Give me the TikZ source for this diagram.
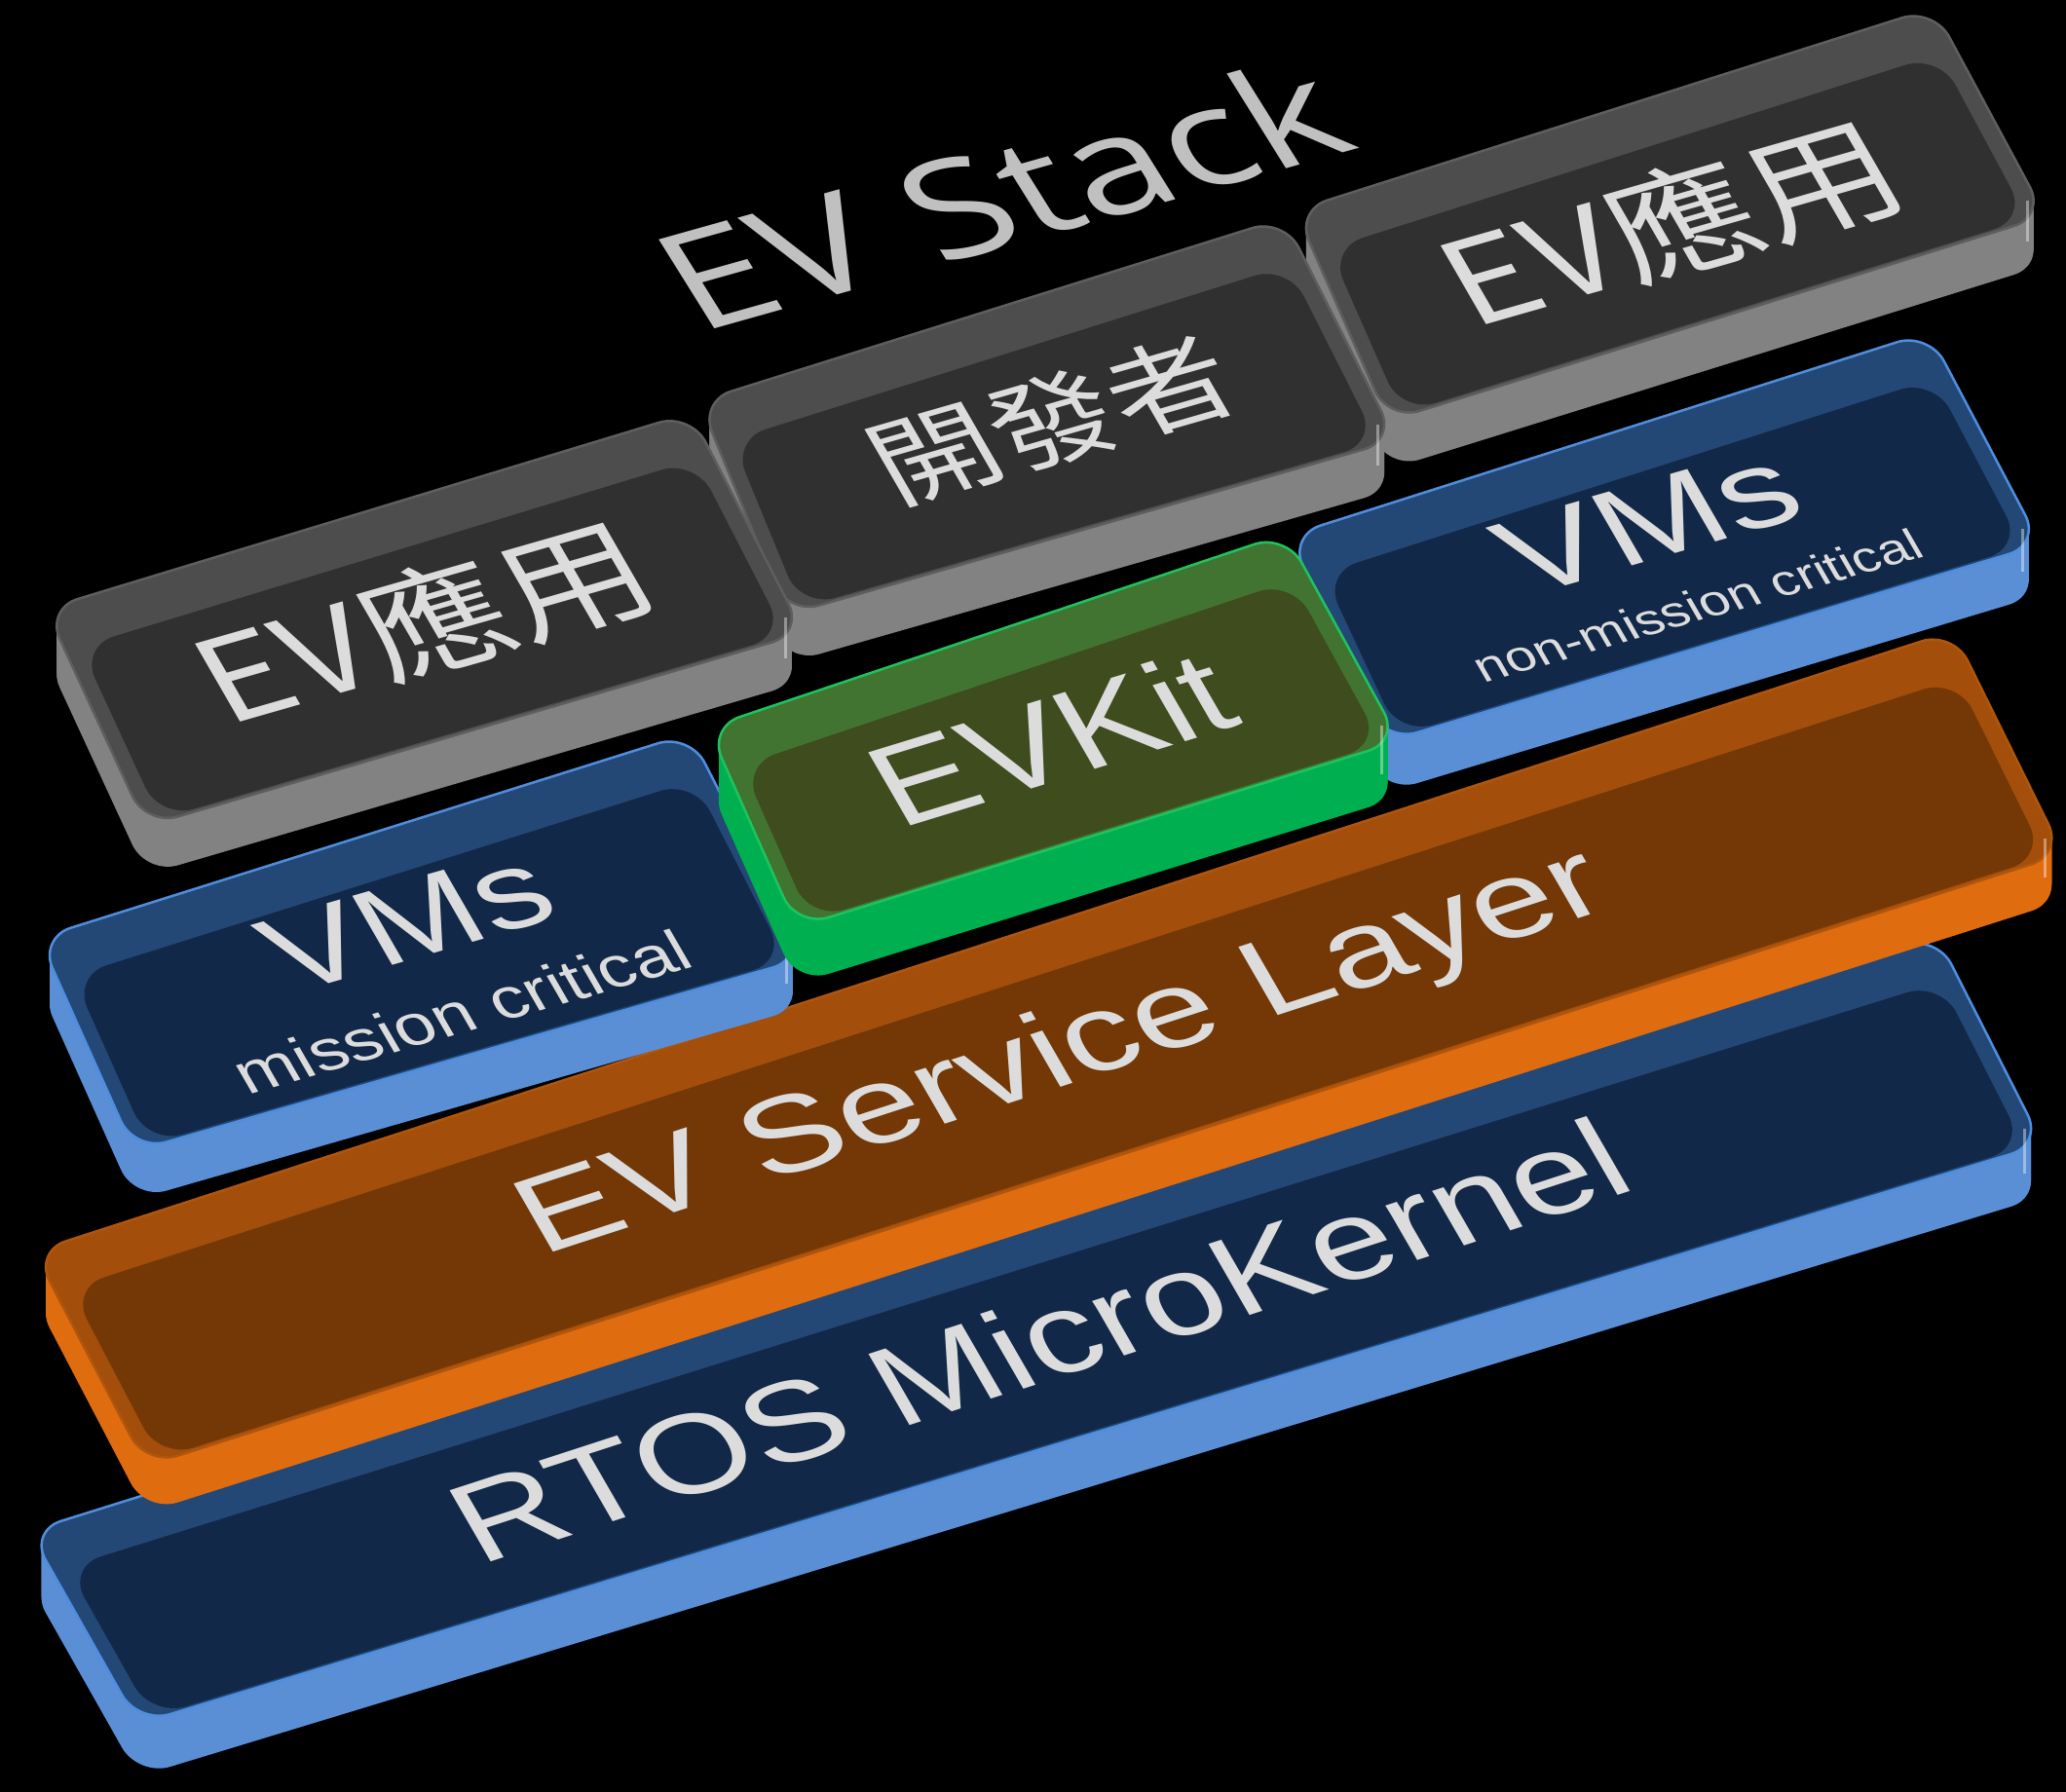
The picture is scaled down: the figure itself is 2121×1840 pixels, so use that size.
\documentclass[tikz,border=0pt]{standalone}
\usepackage{fontspec}
\setmainfont{Liberation Sans}
\newfontfamily\cjkfont{Noto Sans CJK TC}
\newfontfamily\stackfont{Open Sans}
\usetikzlibrary{calc}

\definecolor{grayside}{HTML}{828282}
\definecolor{grayrim}{HTML}{4D4D4D}
\definecolor{grayin}{HTML}{303030}
\definecolor{grayline}{HTML}{5E5E5E}
\definecolor{blueside}{HTML}{5A8FD6}
\definecolor{bluerim}{HTML}{234876}
\definecolor{bluein}{HTML}{122848}
\definecolor{blueline}{HTML}{4E8EE0}
\definecolor{orngside}{HTML}{E06C10}
\definecolor{orngrim}{HTML}{A34E0B}
\definecolor{orngin}{HTML}{733806}
\definecolor{orngline}{HTML}{B0560C}
\definecolor{grnside}{HTML}{00B050}
\definecolor{grnrim}{HTML}{427431}
\definecolor{grnin}{HTML}{3E4C1E}
\definecolor{grnline}{HTML}{1CC45E}
\definecolor{lbltext}{HTML}{DCDCDC}
\definecolor{stacktext}{HTML}{C0C0C0}

% #1 id, #2 palette, #3 back-left, #4 back-right, #5 front-right, #6 front-left, #7 thickness
\newcommand\drawslab[7]{%
  \foreach \s in {0,2,...,#7}{%
    \fill[#2side, rounded corners=0.34cm, shift={(0,\s)}] (#3) -- (#4) -- (#5) -- (#6) -- cycle;}
  \fill[#2rim, draw=#2line, line width=0.025cm, rounded corners=0.34cm]
    (#3) -- (#4) -- (#5) -- (#6) -- cycle;
  \coordinate (#1-bl) at (#3);
  \coordinate (#1-br) at (#4);
  \coordinate (#1-fr) at (#5);
  \coordinate (#1-fl) at (#6);
  \coordinate (#1-l1) at ($(#1-bl)!0.48cm!(#1-fl)$);
  \coordinate (#1-r1) at ($(#1-br)!0.48cm!(#1-fr)$);
  \coordinate (#1-l2) at ($(#1-fl)!0.03cm!(#1-bl)$);
  \coordinate (#1-r2) at ($(#1-fr)!0.03cm!(#1-br)$);
  \fill[#2in, rounded corners=0.36cm]
    ($(#1-l1)!0.16cm!(#1-r1)$) -- ($(#1-r1)!0.18cm!(#1-l1)$) --
    ($(#1-r2)!0.18cm!(#1-l2)$) -- ($(#1-l2)!0.16cm!(#1-r2)$) -- cycle;
  \draw[white, opacity=0.4, line width=0.03cm]
    ($(#1-fr)+(-19,-16)$) -- ($(#1-fr)+(-19,#7-24)$);
}

\tikzset{
  lbl/.style={text=lbltext, inner sep=0pt, anchor=base},
  tiltA/.style={cm={0.9613,0.2756,-0.425,0.7361,(0,0)}},
  tiltB/.style={cm={0.9563,0.2924,-0.425,0.7361,(0,0)}},
}

\begin{document}
\begin{tikzpicture}[x=0.01cm,y=-0.01cm]
\fill[black] (0,0) rectangle (2121,1840);
\useasboundingbox (0,0) rectangle (2121,1840);

% title
\node[lbl, cm={0.9916,0.2787,-0.4504,0.7208,(0,0)}, text=stacktext,
      font=\stackfont\fontsize{50.5}{53}\selectfont] (title) at (1057,247) {EV Stack};

% slabs, back to front
\drawslab{H}{blue}{30,1572}{1988,960}{2097,1175}{142,1770}{54}
\drawslab{G}{orng}{35,1285}{2005,648}{2118,877}{150,1505}{48}
\drawslab{C}{gray}{1330,216}{1985,8}{2100,222}{1425,432}{50}
\drawslab{B}{gray}{718,412}{1318,224}{1433,452}{808,631}{50}
\drawslab{A}{gray}{47,625}{709,424}{825,650}{150,848}{50}
\drawslab{D}{blue}{40,963}{708,753}{826,984}{138,1182}{50}
\drawslab{F}{blue}{1323,550}{1980,341}{2095,559}{1422,762}{52}
\drawslab{E}{grn}{727,747}{1320,548}{1437,761}{818,952}{58}

% labels
\node[lbl, tiltA, font=\cjkfont\fontsize{42.2}{44}\selectfont] (tA) at (458,681) {EV應用};
\node[lbl, tiltA, font=\cjkfont\fontsize{35.5}{37}\selectfont] (tB) at (1100,466) {開發者};
\node[lbl, tiltA, font=\cjkfont\fontsize{42.6}{44}\selectfont] (tC) at (1739,272) {EV應用};
\node[lbl, cm={1.0046,0.2880,-0.425,0.7361,(0,0)}, font=\fontsize{39.8}{42}\selectfont] (tD1) at (438,981) {VMs};
\node[lbl, tiltA, font=\fontsize{21}{23}\selectfont] (tD2) at (485,1058) {mission critical};
\node[lbl, cm={1.0478,0.3004,-0.425,0.7361,(0,0)}, font=\fontsize{39.8}{42}\selectfont] (tF1) at (1712,571) {VMs};
\node[lbl, tiltA, font=\fontsize{15.8}{18}\selectfont] (tF2) at (1751,636) {non-mission critical};
\node[lbl, tiltB, font=\fontsize{42.1}{44}\selectfont] (tE) at (1101,797) {EVKit};
\node[lbl, cm={1.0319,0.3353,-0.425,0.7361,(0,0)}, font=\fontsize{39.3}{41}\selectfont] (tG) at (1107,1110) {EV Service Layer};
\node[lbl, cm={0.9891,0.3214,-0.425,0.7361,(0,0)}, font=\fontsize{41}{43}\selectfont] (tH) at (1088,1414) {RTOS MicroKernel};
\end{tikzpicture}
\end{document}
